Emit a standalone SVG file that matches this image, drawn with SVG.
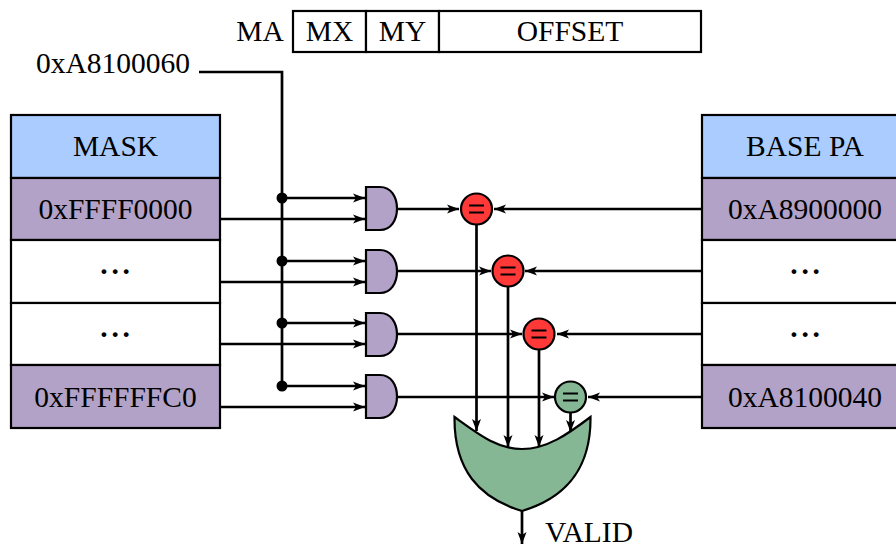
<svg xmlns="http://www.w3.org/2000/svg" width="896" height="545" viewBox="0 0 896 545">
<style>
text{font-family:"Liberation Serif","Times New Roman",serif;font-size:29.500px;fill:#000;text-anchor:middle}
.d{letter-spacing:3.800px;font-weight:bold}
.c{fill:none;stroke:#000;stroke-width:2.700}
.b{stroke:#000;stroke-width:2.200}
.hd{fill:#aaccff}.pu{fill:#b3a2c7}.wh{fill:#fff}
.and{fill:#b3a2c7;stroke:#000;stroke-width:2.200}
.eq{stroke:#000;stroke-width:2.200}
.bar{stroke:#000;stroke-width:2;fill:none}
</style>
<defs>
<marker id="a" markerUnits="userSpaceOnUse" markerWidth="13" markerHeight="10" refX="12" refY="5" orient="auto"><path d="M0 .5L12 5L0 9.500L3 5Z" fill="#000"/></marker>
<path id="g" d="M366 0H380C391 0 397 10 397 21.500C397 33 391 43 380 43H366Z"/>
</defs>
<rect width="896" height="545" fill="#fff"/>
<g id="connectors">
<path class="c" d="M199 72H282V386"/>
<g fill="#000"><circle cx="282" cy="198" r="5.500"/><circle cx="282" cy="261" r="5.500"/><circle cx="282" cy="323" r="5.500"/><circle cx="282" cy="386" r="5.500"/></g>
<g class="c">
<path marker-end="url(#a)" d="M282 198H365"/><path marker-end="url(#a)" d="M220 219H365"/>
<path marker-end="url(#a)" d="M282 261H365"/><path marker-end="url(#a)" d="M220 282H365"/>
<path marker-end="url(#a)" d="M282 323H365"/><path marker-end="url(#a)" d="M220 344H365"/>
<path marker-end="url(#a)" d="M282 386H365"/><path marker-end="url(#a)" d="M220 407H365"/>
<path marker-end="url(#a)" d="M397 209H459"/><path marker-end="url(#a)" d="M397 271H491"/>
<path marker-end="url(#a)" d="M397 334H522"/><path marker-end="url(#a)" d="M397 397H554"/>
<path marker-end="url(#a)" d="M702 209H494"/><path marker-end="url(#a)" d="M702 271H525"/>
<path marker-end="url(#a)" d="M702 334H557"/><path marker-end="url(#a)" d="M702 397H588"/>
<path marker-end="url(#a)" d="M476.500 225V431"/><path marker-end="url(#a)" d="M508 287V447"/>
<path marker-end="url(#a)" d="M539 350V447"/><path marker-end="url(#a)" d="M570.500 413V432"/>
<path marker-end="url(#a)" d="M522 511V544"/>
</g>
</g>
<g id="ma"><text x="260" y="41">MA</text></g>
<g id="ma-mx"><rect class="b wh" x="293" y="11" width="73" height="41"/><text x="329.500" y="41">MX</text></g>
<g id="ma-my"><rect class="b wh" x="366" y="11" width="73" height="41"/><text x="402.500" y="41">MY</text></g>
<g id="ma-offset"><rect class="b wh" x="439" y="11" width="262" height="41"/><text x="570" y="41">OFFSET</text></g>
<g id="addr"><text x="113" y="73">0xA8100060</text></g>
<g id="mask-head"><rect class="b hd" x="11" y="115" width="209" height="63"/><text x="115.500" y="156">MASK</text></g>
<g id="mask-1"><rect class="b pu" x="11" y="178" width="209" height="62"/><text x="115.500" y="219">0xFFFF0000</text></g>
<g id="mask-2"><rect class="b wh" x="11" y="240" width="209" height="63"/><text class="d" x="117" y="274">...</text></g>
<g id="mask-3"><rect class="b wh" x="11" y="303" width="209" height="62"/><text class="d" x="117" y="337">...</text></g>
<g id="mask-4"><rect class="b pu" x="11" y="365" width="209" height="63"/><text x="115.500" y="407">0xFFFFFFC0</text></g>
<g id="base-head"><rect class="b hd" x="702" y="115" width="209" height="63"/><text x="805" y="156">BASE PA</text></g>
<g id="base-1"><rect class="b pu" x="702" y="178" width="209" height="62"/><text x="805" y="219">0xA8900000</text></g>
<g id="base-2"><rect class="b wh" x="702" y="240" width="209" height="63"/><text class="d" x="807" y="274">...</text></g>
<g id="base-3"><rect class="b wh" x="702" y="303" width="209" height="62"/><text class="d" x="807" y="337">...</text></g>
<g id="base-4"><rect class="b pu" x="702" y="365" width="209" height="63"/><text x="805" y="407">0xA8100040</text></g>
<g id="and-1"><use href="#g" class="and" y="187"/></g>
<g id="and-2"><use href="#g" class="and" y="250"/></g>
<g id="and-3"><use href="#g" class="and" y="313"/></g>
<g id="and-4"><use href="#g" class="and" y="375"/></g>
<g id="eq-1"><circle class="eq" cx="476.500" cy="209" r="15.500" fill="#ff3838"/><path class="bar" d="M469 205.500H484M469 212.500H484"/></g>
<g id="eq-2"><circle class="eq" cx="508" cy="271" r="15.500" fill="#ff3838"/><path class="bar" d="M500.500 267.500H515.500M500.500 274.500H515.500"/></g>
<g id="eq-3"><circle class="eq" cx="539" cy="334" r="15.500" fill="#ff3838"/><path class="bar" d="M531.500 330.500H546.500M531.500 337.500H546.500"/></g>
<g id="eq-4"><circle class="eq" cx="570.500" cy="397" r="15.500" fill="#85b795"/><path class="bar" d="M563 393.500H578M563 400.500H578"/></g>
<g id="or"><path d="M454.500 417C478 434 497 449 522 449C547 449 568 434 590.500 417C591 470 565 498 522 511C479 498 454 470 454.500 417Z" fill="#85b795" stroke="#000" stroke-width="2.200"/></g>
<g id="valid"><text x="589" y="542">VALID</text></g>
</svg>
